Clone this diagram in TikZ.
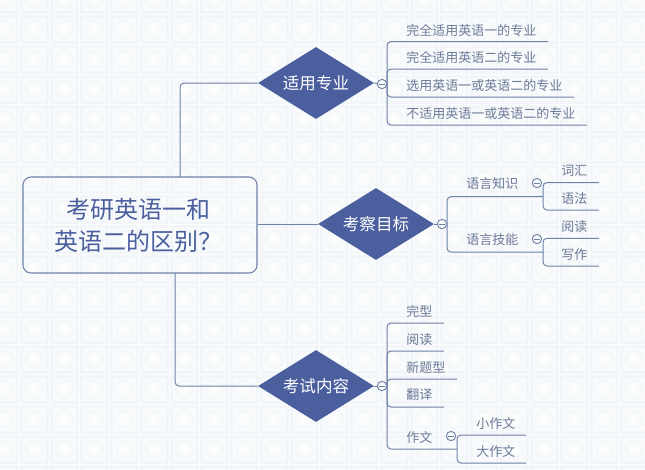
\documentclass[tikz,border=0pt]{standalone}
\usepackage{fontspec}
\setmainfont{Noto Sans CJK SC}
\usepackage{xcolor}
\usetikzlibrary{positioning, shapes.geometric}
\definecolor{tilefill}{HTML}{F2F6F8}
\definecolor{tileinner}{HTML}{F8FAFB}
\definecolor{tilegap}{HTML}{FCFDFD}
\definecolor{inkblue}{HTML}{4B5F9F}
\definecolor{leafink}{HTML}{6C7A99}
\definecolor{linkblue}{HTML}{6F82A8}

\begin{document}
\begin{tikzpicture}[
x=0.75pt, y=-0.75pt,
rootbox/.style={draw=linkblue, thick, rounded corners=6pt, fill=none, minimum width=175.5pt, minimum height=72pt, align=center, text=inkblue, font=\fontsize{18}{24}\selectfont, inner sep=0pt},
topic/.style={diamond, fill=inkblue, aspect=1.61, minimum width=87pt, minimum height=54pt, inner sep=0pt, text=white, font=\fontsize{12.4}{14}\selectfont},
leaf/.style={anchor=west, inner sep=0pt, text=leafink, font=\fontsize{9.75}{12}\selectfont},
fold/.style={circle, draw=linkblue, line width=0.7pt, fill=tileinner, minimum size=7pt, inner sep=0pt,
  path picture={\draw[linkblue, line width=0.7pt] ([xshift=1.5pt]path picture bounding box.west) -- ([xshift=-1.5pt]path picture bounding box.east);}},
link/.style={draw=linkblue, line width=0.75pt, rounded corners=3pt},
branch/.style={draw=linkblue, line width=0.75pt, rounded corners=3pt}
]
\useasboundingbox (0,0) rectangle (645,469);

% ====== Background ======
\fill[tilegap] (0,0) rectangle (645,469);
\begin{scope}
\clip (0,0) rectangle (645,469);
\foreach \i in {-1,...,21} {
  \foreach \j in {-1,...,15} {
    \fill[tilefill] (20+30*\i,15+30*\j) rectangle +(28.5,28.5);
    \fill[tileinner] (23+30*\i,18+30*\j) rectangle +(22.5,22.5);
    \draw[tilefill, line width=0.8pt] (34.25+30*\i,29.25+30*\j) circle[radius=6.5pt];
    \fill[tilegap] (34.25+30*\i,23+30*\j) -- ++(6,6) -- ++(-6,6) -- ++(-6,-6) -- cycle;
  }
}
\end{scope}

% ====== Root and topics ======
\node[rootbox] (root) at (140,225) {\hspace*{-2pt}考研英语一和\\\hspace*{-2pt}英语二的区别？};
\node[topic] (usage) at (316,83) {适用专业};
\node[topic] (aims) at (376,224) {考察目标};
\node[topic] (content) at (316,386) {考试内容};

\coordinate (rootUp) at (180,177);
\coordinate (rootDown) at (175,273);
\draw[link] (rootUp) |- (usage.west);
\draw[link] (root.east |- aims.west) -- (aims.west);
\draw[link] (rootDown) |- (content.west);

% ====== Usage branch ======
\node[leaf] (usageA) at (406,30.5) {完全适用英语一的专业};
\node[leaf] (usageB) at (406,57.5) {完全适用英语二的专业};
\node[leaf] (usageC) at (406,85.5) {选用英语一或英语二的专业};
\node[leaf] (usageD) at (406,113.5) {不适用英语一或英语二的专业};
\coordinate (barUsage) at (387,84);
\coordinate (endA) at (548,41.5);
\coordinate (endB) at (548,69);
\coordinate (endC) at (574,97);
\coordinate (endD) at (587,125);
\draw[branch] (barUsage) |- (endA);
\draw[branch] (barUsage) |- (endB);
\draw[branch] (barUsage) |- (endC);
\draw[branch] (barUsage) |- (endD);
\node[fold] (foldUsage) at (382,84) {};
\draw[link] (usage.east) -- (foldUsage);

% ====== Aims branch ======
\node[leaf] (know) at (466,183.5) {语言知识};
\node[leaf] (skill) at (466,240) {语言技能};
\coordinate (barAims) at (447,224);
\coordinate (midKnow) at (543,196.7);
\coordinate (midSkill) at (543,252);
\draw[branch] (barAims) |- (midKnow);
\draw[branch] (barAims) |- (midSkill);
\node[fold] (foldAims) at (442,224) {};
\draw[link] (aims.east) -- (foldAims);
\node[leaf] (word) at (561,170.5) {词汇};
\node[leaf] (gram) at (561,198.5) {语法};
\node[leaf] (read) at (561,226.5) {阅读};
\node[leaf] (write) at (561,254.5) {写作};
\coordinate (endWord) at (599,182.5);
\coordinate (endGram) at (599,210);
\coordinate (endRead) at (599,238.3);
\coordinate (endWrite) at (599,266);
\draw[branch] (midKnow) |- (endWord);
\draw[branch] (midKnow) |- (endGram);
\draw[branch] (midSkill) |- (endRead);
\draw[branch] (midSkill) |- (endWrite);
\node[fold] (foldKnow) at (537,183) {};
\node[fold] (foldSkill) at (537,239) {};

% ====== Content branch ======
\node[leaf] (cloze) at (406,311.5) {完型};
\node[leaf] (reading) at (406,339.5) {阅读};
\node[leaf] (newtype) at (406,367.5) {新题型};
\node[leaf] (trans) at (406,394.5) {翻译};
\node[leaf] (essay) at (406,437.5) {作文};
\coordinate (barContent) at (387,386);
\coordinate (endCloze) at (444,323);
\coordinate (endReading) at (444,351);
\coordinate (endNew) at (457,379);
\coordinate (endTrans) at (444,407);
\coordinate (midEssay) at (457,449);
\draw[branch] (barContent) |- (endCloze);
\draw[branch] (barContent) |- (endReading);
\draw[branch] (barContent) |- (endNew);
\draw[branch] (barContent) |- (endTrans);
\draw[branch] (barContent) |- (midEssay);
\node[fold] (foldContent) at (382,386) {};
\draw[link] (content.east) -- (foldContent);
\node[leaf] (small) at (476,423.5) {小作文};
\node[leaf] (big) at (476,451.5) {大作文};
\coordinate (endSmall) at (526,435);
\coordinate (endBig) at (526,463);
\draw[branch] (midEssay) |- (endSmall);
\draw[branch] (midEssay) |- (endBig);
\node[fold] (foldEssay) at (451,436) {};

\end{tikzpicture}
\end{document}
